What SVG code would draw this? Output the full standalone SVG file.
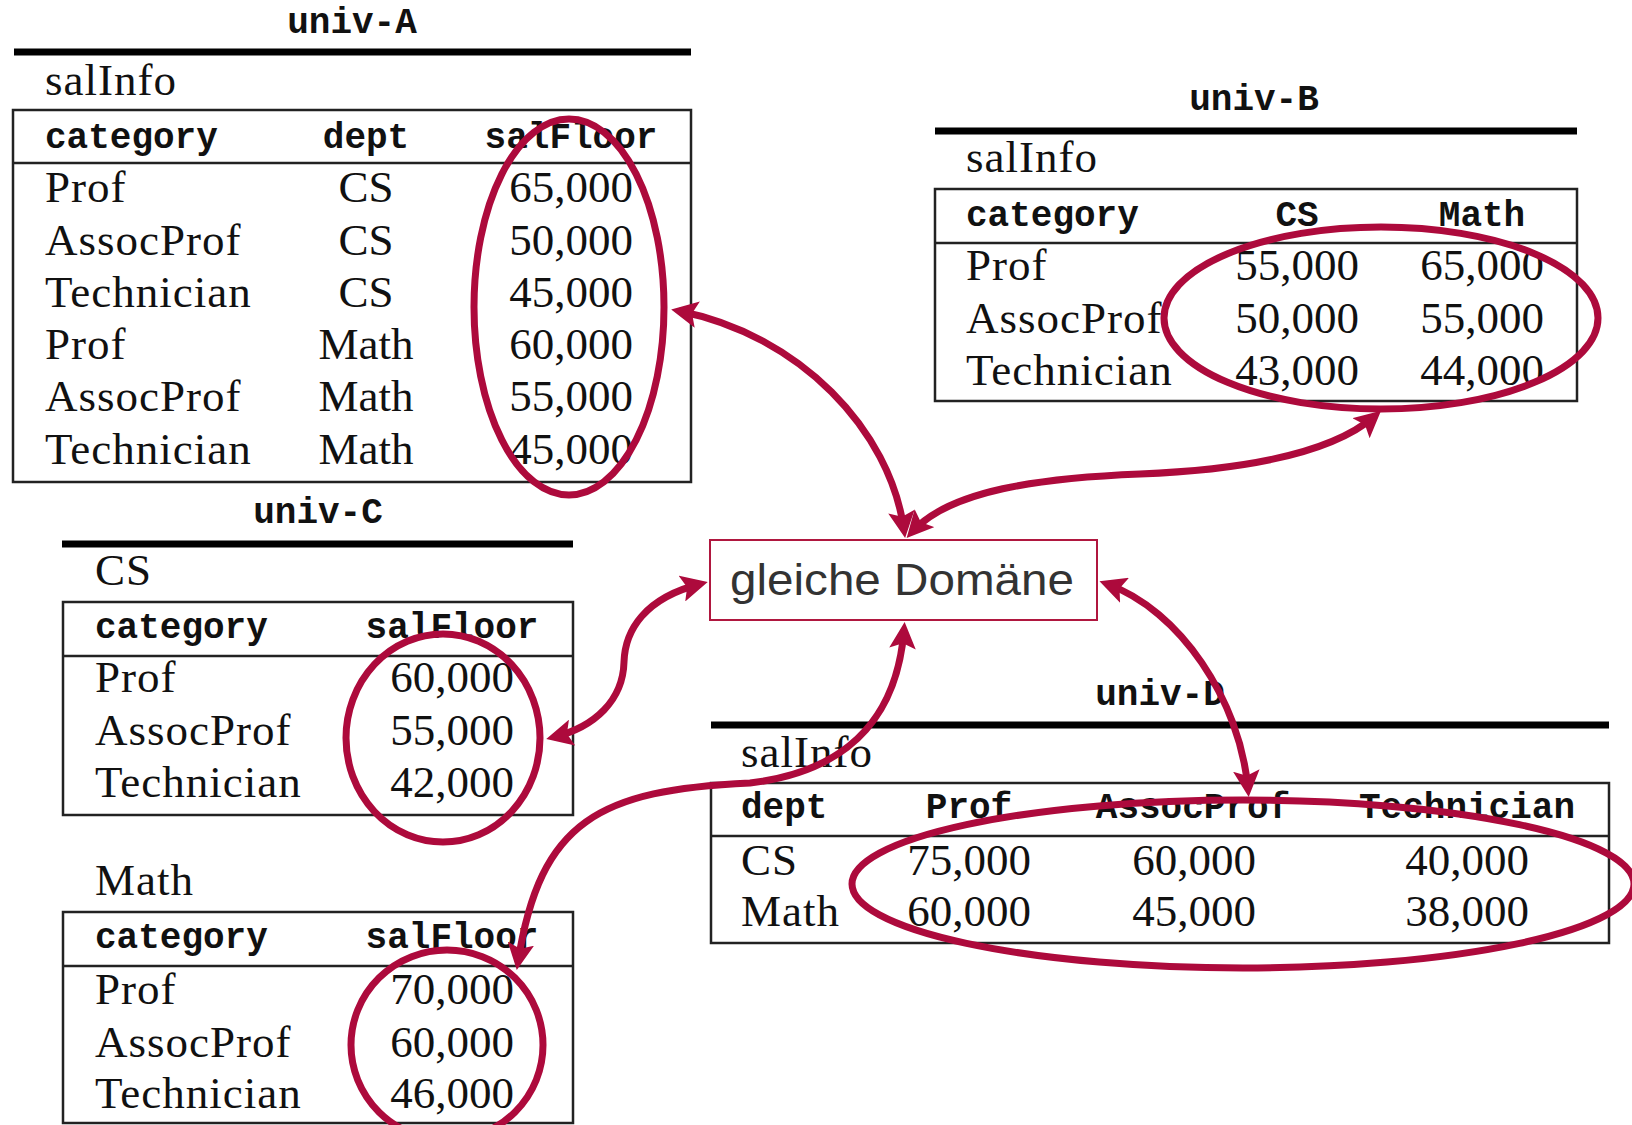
<svg xmlns="http://www.w3.org/2000/svg" width="1632" height="1125" viewBox="0 0 1632 1125">
  <style>
    .ser { font-family: "Liberation Serif", "Times New Roman", serif; font-size: 45px; fill: #111; }
    .w { letter-spacing: 1px; }
    .tt { font-family: "Liberation Mono", "Courier New", monospace; font-weight: bold; font-size: 36px; fill: #111; }
    .c { text-anchor: middle; }
    .rule { stroke: #000; stroke-width: 7; }
    .tbl { fill: none; stroke: #222; stroke-width: 2.5; }
    .sep { stroke: #222; stroke-width: 2.5; }
    .hl { fill: none; stroke: #AD0A3C; stroke-width: 7; }
    .conn path { fill: none; stroke: #AD0A3C; stroke-width: 7; marker-start: url(#head); marker-end: url(#head); }
    .label { font-family: "Liberation Sans", Arial, sans-serif; font-size: 44px; fill: #333; }
  </style>
  <defs>
    <marker id="head" viewBox="0 0 10 10" refX="7" refY="5" markerWidth="3.8" markerHeight="3.8" orient="auto-start-reverse" markerUnits="strokeWidth">
      <path d="M0,0 L10,5 L0,10 L2,5 z" fill="#AD0A3C"/>
    </marker>
  </defs>
  <rect width="1632" height="1125" fill="#fff"/>

  <!-- univ-A: salInfo(category, dept, salFloor) -->
  <g id="univ-A">
    <text class="tt c" x="352" y="33">univ-A</text>
    <line class="rule" x1="14" y1="52" x2="691" y2="52"/>
    <text class="ser w" x="45" y="95">salInfo</text>
    <rect class="tbl" x="13" y="110" width="678" height="372"/>
    <line class="sep" x1="13" y1="163" x2="691" y2="163"/>
    <text class="tt" x="45" y="148">category</text>
    <text class="tt c" x="366" y="148">dept</text>
    <text class="tt c" x="571" y="148">salFloor</text>
    <g class="ser">
      <text class="w" x="45" y="202">Prof</text><text class="c" x="366" y="202">CS</text><text class="c" x="571" y="202">65,000</text>
      <text class="w" x="45" y="255">AssocProf</text><text class="c" x="366" y="255">CS</text><text class="c" x="571" y="255">50,000</text>
      <text class="w" x="45" y="307">Technician</text><text class="c" x="366" y="307">CS</text><text class="c" x="571" y="307">45,000</text>
      <text class="w" x="45" y="359">Prof</text><text class="c" x="366" y="359">Math</text><text class="c" x="571" y="359">60,000</text>
      <text class="w" x="45" y="411">AssocProf</text><text class="c" x="366" y="411">Math</text><text class="c" x="571" y="411">55,000</text>
      <text class="w" x="45" y="464">Technician</text><text class="c" x="366" y="464">Math</text><text class="c" x="571" y="464">45,000</text>
    </g>
    <ellipse class="hl" cx="569" cy="307" rx="95" ry="188"/>
  </g>

  <!-- univ-B: salInfo(category, CS, Math) -->
  <g id="univ-B">
    <text class="tt c" x="1254" y="110">univ-B</text>
    <line class="rule" x1="935" y1="131" x2="1577" y2="131"/>
    <text class="ser w" x="966" y="172">salInfo</text>
    <rect class="tbl" x="935" y="189" width="642" height="212"/>
    <line class="sep" x1="935" y1="243" x2="1577" y2="243"/>
    <text class="tt" x="966" y="226">category</text>
    <text class="tt c" x="1297" y="226">CS</text>
    <text class="tt c" x="1482" y="226">Math</text>
    <g class="ser">
      <text class="w" x="966" y="280">Prof</text><text class="c" x="1297" y="280">55,000</text><text class="c" x="1482" y="280">65,000</text>
      <text class="w" x="966" y="333">AssocProf</text><text class="c" x="1297" y="333">50,000</text><text class="c" x="1482" y="333">55,000</text>
      <text class="w" x="966" y="385">Technician</text><text class="c" x="1297" y="385">43,000</text><text class="c" x="1482" y="385">44,000</text>
    </g>
    <ellipse class="hl" cx="1381" cy="318" rx="217" ry="91"/>
  </g>

  <!-- univ-C: one relation per department -->
  <g id="univ-C">
    <text class="tt c" x="318" y="523">univ-C</text>
    <line class="rule" x1="62" y1="544" x2="573" y2="544"/>
    <g id="univ-C-CS">
      <text class="ser w" x="95" y="585">CS</text>
      <rect class="tbl" x="63" y="602" width="510" height="213"/>
      <line class="sep" x1="63" y1="656" x2="573" y2="656"/>
      <text class="tt" x="95" y="638">category</text>
      <text class="tt c" x="452" y="638">salFloor</text>
      <g class="ser">
        <text class="w" x="95" y="692">Prof</text><text class="c" x="452" y="692">60,000</text>
        <text class="w" x="95" y="745">AssocProf</text><text class="c" x="452" y="745">55,000</text>
        <text class="w" x="95" y="797">Technician</text><text class="c" x="452" y="797">42,000</text>
      </g>
      <ellipse class="hl" cx="443" cy="738" rx="97" ry="104"/>
    </g>
    <g id="univ-C-Math">
      <text class="ser w" x="95" y="895">Math</text>
      <rect class="tbl" x="63" y="912" width="510" height="211"/>
      <line class="sep" x1="63" y1="966" x2="573" y2="966"/>
      <text class="tt" x="95" y="948">category</text>
      <text class="tt c" x="452" y="948">salFloor</text>
      <g class="ser">
        <text class="w" x="95" y="1004">Prof</text><text class="c" x="452" y="1004">70,000</text>
        <text class="w" x="95" y="1057">AssocProf</text><text class="c" x="452" y="1057">60,000</text>
        <text class="w" x="95" y="1108">Technician</text><text class="c" x="452" y="1108">46,000</text>
      </g>
      <ellipse class="hl" cx="447" cy="1045" rx="96" ry="95"/>
    </g>
  </g>

  <!-- univ-D: salInfo(dept, Prof, AssocProf, Technician) -->
  <g id="univ-D">
    <text class="tt c" x="1160" y="705">univ-D</text>
    <line class="rule" x1="711" y1="725" x2="1609" y2="725"/>
    <text class="ser w" x="741" y="767">salInfo</text>
    <rect class="tbl" x="711" y="783" width="898" height="160"/>
    <line class="sep" x1="711" y1="836" x2="1609" y2="836"/>
    <text class="tt" x="741" y="818">dept</text>
    <text class="tt c" x="969" y="818">Prof</text>
    <text class="tt c" x="1193" y="818">AssocProf</text>
    <text class="tt c" x="1467" y="818">Technician</text>
    <g class="ser">
      <text class="w" x="741" y="875">CS</text><text class="c" x="969" y="875">75,000</text><text class="c" x="1194" y="875">60,000</text><text class="c" x="1467" y="875">40,000</text>
      <text class="w" x="741" y="926">Math</text><text class="c" x="969" y="926">60,000</text><text class="c" x="1194" y="926">45,000</text><text class="c" x="1467" y="926">38,000</text>
    </g>
    <ellipse class="hl" cx="1243" cy="884" rx="391" ry="84"/>
  </g>

  <!-- central concept box -->
  <g id="domain">
    <rect x="710" y="540" width="387" height="80" fill="#fff" stroke="#B0173F" stroke-width="2"/>
    <text class="label" x="730" y="595" textLength="344" lengthAdjust="spacingAndGlyphs">gleiche Domäne</text>
  </g>

  <!-- double-headed links between highlighted value sets and the box -->
  <g id="connectors" class="conn">
    <path d="M679,311 C800,335 890,430 904,530"/>
    <path d="M912,532 C950,490 1040,478 1140,474 S1330,455 1375,416"/>
    <path d="M700,584 C645,598 625,630 624,662 C623,700 595,727 554,737"/>
    <path d="M904,630 C898,705 860,770 750,783 C600,790 540,820 518,962"/>
    <path d="M1107,584 C1180,610 1240,700 1248,789"/>
  </g>
</svg>
